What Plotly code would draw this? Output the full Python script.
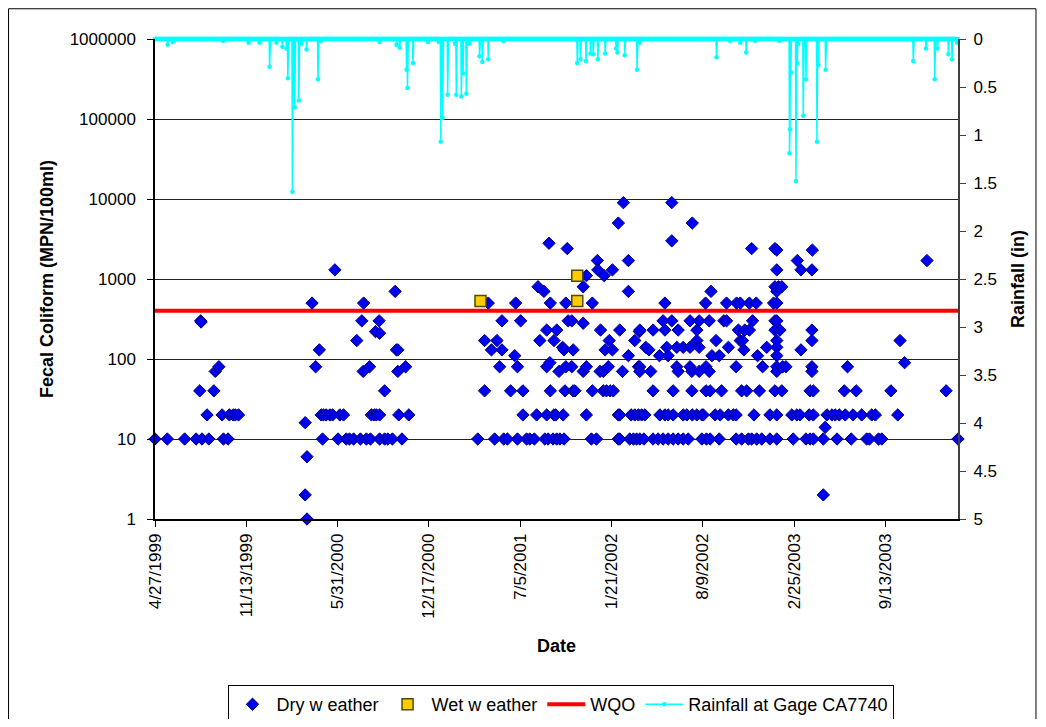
import pandas as pd
import plotly.graph_objects as go

# Dates are stored as days after 4/27/1999 (first day of the record)
START = pd.Timestamp("1999-04-27")
END = pd.Timestamp("2004-02-19")

# Dry weather samples, grouped by reported fecal coliform result (MPN/100ml)
dry_days_10 = [0, 27, 65, 90, 103, 118, 150, 160, 367, 401, 419, 426, 435, 450, 463, 472, 492, 503, 510,
               520, 541, 707, 744, 764, 772, 794, 814, 821, 831, 854, 861, 872, 880, 887, 896, 956, 967,
               1015, 1018, 1040, 1048, 1055, 1062, 1071, 1091, 1102, 1113, 1124, 1135, 1146, 1157, 1168,
               1198, 1208, 1216, 1236, 1273, 1285, 1300, 1307, 1318, 1329, 1347, 1362, 1398, 1426, 1435,
               1442, 1464, 1494, 1525, 1559, 1565, 1585, 1592, 1759]
dry_days_20 = [114, 147, 163, 171, 176, 183, 364, 369, 375, 383, 389, 405, 413, 474, 480, 485, 492, 534,
               556, 806, 836, 858, 874, 878, 894, 945, 1015, 1018, 1043, 1051, 1059, 1066, 1073, 1106,
               1117, 1124, 1135, 1157, 1165, 1177, 1187, 1198, 1201, 1227, 1238, 1256, 1267, 1273, 1312,
               1347, 1362, 1395, 1406, 1413, 1433, 1442, 1472, 1483, 1490, 1499, 1512, 1529, 1548, 1570,
               1578, 1627]
dry_days_40 = [98, 129, 503, 722, 779, 806, 866, 898, 916, 920, 958, 982, 989, 997, 1004, 1091, 1135,
               1176, 1207, 1216, 1241, 1285, 1296, 1324, 1358, 1373, 1435, 1442, 1510, 1536, 1612, 1733]
dry_other_days = [100, 101, 132, 140, 329, 333, 329, 333, 344, 352, 360, 394, 442, 453, 456, 457, 470,
                  483, 492, 491, 526, 529, 532, 532, 549,
                  722, 730, 737, 749, 755, 760, 760, 788, 790, 794, 801, 839, 852, 843, 858, 858, 863,
                  865, 866, 874, 880, 885, 893, 896, 900, 900, 903, 905, 913, 913, 916, 938, 938, 938,
                  945, 945, 958, 969, 970, 975, 976, 982, 984, 986, 993, 995, 1002, 1002, 1015, 1018,
                  1024, 1026, 1037, 1037, 1037, 1051, 1059, 1061, 1062, 1062, 1062,
                  1075, 1082, 1086, 1091, 1105, 1113, 1117, 1117, 1121, 1124, 1132, 1132, 1132, 1143,
                  1143, 1146, 1146, 1157, 1172, 1172, 1172, 1176, 1177, 1187, 1187, 1192, 1192, 1192,
                  1206, 1207, 1214, 1214, 1218, 1220, 1229, 1236, 1246, 1252, 1252, 1256, 1274, 1273,
                  1278, 1282, 1282, 1287, 1290, 1292, 1302, 1302, 1307, 1309, 1317, 1320, 1331, 1340,
                  1355, 1358, 1358, 1358, 1358, 1362, 1362, 1362, 1362, 1362, 1362, 1362, 1362, 1362,
                  1362, 1366, 1373, 1369, 1375, 1382, 1407, 1415, 1415, 1439, 1439, 1439, 1439, 1439,
                  1440, 1468, 1464, 1517, 1632, 1642, 1691]
dry_other_fc = [300, 290, 70, 80, 16, 6, 2, 1, 500, 80, 130, 1300, 170, 300, 70, 500, 80,
                220, 210, 300, 700, 130, 130, 70, 80,
                170, 500, 130, 170, 80, 300, 130, 110, 500, 80, 300, 800, 700, 170, 230, 80, 2800,
                90, 500, 170, 230, 70, 140, 130, 500, 80, 2400, 300, 300, 80, 130, 800, 280, 70,
                1100, 80, 500, 1700, 1300, 70, 230, 70, 1100, 130, 80, 170, 1300, 130, 5000, 230,
                70, 9000, 1700, 700, 110, 170, 80, 220, 230, 80, 70,
                140, 130, 70, 230, 110, 300, 500, 230, 140, 110, 9000, 3000, 300, 140,
                80, 230, 70, 140, 300, 80, 140, 70, 5000, 230, 170, 300, 140, 70,
                500, 80, 300, 70, 700, 110, 170, 110, 300, 500, 300, 140, 500, 80,
                230, 500, 170, 170, 130, 230, 500, 230, 2400, 300, 500, 110, 80, 140,
                500, 2400, 800, 300, 230, 2300, 1300, 700, 500, 300, 170, 140, 110, 80,
                70, 800, 800, 230, 80, 80, 1700, 1300, 130, 1300, 230, 170, 80, 70,
                2300, 14, 2, 80, 170, 90, 1700]

# Wet weather samples
wet_days = [713, 925, 925]
wet_fc = [530, 1100, 530]

# Water quality objective
wqo_dates = ["1999-04-27", "2004-02-19"]
wqo_values = [400, 400]

# Daily rainfall at gage CA7740: days with rain (all other days 0 in)
rain_days = [28, 39, 149, 205, 229, 251, 266, 279, 288, 291, 301, 306, 315, 321, 332, 357, 363,
             492, 529, 536, 551, 553, 565, 598, 622, 626, 630, 641, 657, 660, 671, 675, 682, 688,
             711, 717, 730, 763, 925, 932, 944, 954, 960, 970, 986, 1010, 1013, 1029, 1056, 1061,
             1230, 1260, 1282, 1295, 1314, 1368, 1390, 1391, 1393, 1404, 1407, 1409, 1420, 1426,
             1450, 1453, 1469, 1661, 1689, 1708, 1714, 1738, 1746, 1757]
rain_in = [0.06, 0.03, 0.02, 0.04, 0.04, 0.29, 0.04, 0.08, 0.10, 0.41, 1.59, 0.71, 0.64, 0.05, 0.11,
           0.42, 0.02, 0.03, 0.06, 0.09, 0.32, 0.51, 0.25, 0.03, 0.03, 1.07, 0.82, 0.58, 0.05, 0.58,
           0.60, 0.36, 0.57, 0.05, 0.18, 0.24, 0.21, 0.02, 0.25, 0.21, 0.23, 0.15, 0.16, 0.21, 0.15,
           0.10, 0.14, 0.17, 0.32, 0.04, 0.19, 0.02, 0.04, 0.14, 0.02, 0.02, 1.19, 0.94, 0.35, 1.48,
           0.25, 0.05, 0.80, 0.42, 1.07, 0.27, 0.32, 0.23, 0.10, 0.42, 0.10, 0.16, 0.21, 0.04]


def to_dates(days):
    return START + pd.to_timedelta(pd.Series(days, dtype="float64"), unit="D")


dry_days = dry_days_10 + dry_days_20 + dry_days_40 + dry_other_days
dry_fc = [10] * len(dry_days_10) + [20] * len(dry_days_20) + [40] * len(dry_days_40) + dry_other_fc

n_days = (END - START).days + 1
rain_series = pd.Series(0.0, index=range(n_days))
for d, v in zip(rain_days, rain_in):
    rain_series[d] = v
rain_dates = START + pd.to_timedelta(rain_series.index.to_series(), unit="D")

FONT = "Liberation Sans, Arial, sans-serif"

fig = go.Figure()

fig.add_trace(go.Scatter(
    x=wqo_dates, y=wqo_values, name="WQO", mode="lines", legendrank=3,
    line=dict(color="#FF0000", width=4), cliponaxis=False,
))
fig.add_trace(go.Scatter(
    x=to_dates(dry_days), y=dry_fc, name="Dry w eather", mode="markers", legendrank=1,
    marker=dict(symbol="diamond", size=9.5, color="#0000F0",
                line=dict(color="#000080", width=1)),
    cliponaxis=False,
))
fig.add_trace(go.Scatter(
    x=to_dates(wet_days), y=wet_fc, name="Wet w eather", mode="markers", legendrank=2,
    marker=dict(symbol="square", size=11, color="#FFCC00",
                line=dict(color="#4D4D00", width=1.5)),
    cliponaxis=False,
))
fig.add_trace(go.Scatter(
    x=rain_dates, y=rain_series.values, name="Rainfall at Gage CA7740", mode="lines+markers",
    legendrank=4, yaxis="y2",
    line=dict(color="#00FFFF", width=1.5),
    marker=dict(color="#00FFFF", size=4.5),
    cliponaxis=False,
))

# page body has an 8px margin: figure is sized so the plot area lands at x 155-958, y 39-519
fig.update_layout(
    width=1030, height=711,
    margin=dict(l=147, r=80, t=31, b=200, autoexpand=False),
    paper_bgcolor="white", plot_bgcolor="white",
    font=dict(family=FONT, size=17, color="black"),
    showlegend=True,
    legend=dict(
        orientation="h", x=0.505, xanchor="center", y=-0.346, yanchor="top",
        bordercolor="black", borderwidth=1, bgcolor="white",
        font=dict(family=FONT, size=18, color="black"),
        itemwidth=38, tracegroupgap=0,
    ),
    xaxis=dict(
        type="date", range=[START, END], automargin=False,
        tick0="1999-04-27", dtick=200 * 86400000,
        tickformat="%-m/%-d/%Y", tickangle=-90,
        ticks="outside", ticklen=6, tickcolor="black",
        showline=True, linecolor="black", linewidth=1.5,
        showgrid=False, zeroline=False,
        tickfont=dict(family=FONT, size=17),
        title=dict(text="Date", font=dict(family=FONT, size=18, weight="bold"), standoff=22),
    ),
    yaxis=dict(
        type="log", range=[0, 6], dtick=1, tickformat="d", automargin=False,
        ticks="outside", ticklen=6, tickcolor="black", ticklabelstandoff=8,
        showline=True, linecolor="black", linewidth=1.5,
        showgrid=True, gridcolor="#222222", gridwidth=1, zeroline=False,
        tickfont=dict(family=FONT, size=17),
        title=dict(text="Fecal Coliform (MPN/100ml)", font=dict(family=FONT, size=18, weight="bold"),
                   standoff=11),
    ),
    yaxis2=dict(
        overlaying="y", side="right", range=[5, 0], dtick=0.5, tick0=0, automargin=False,
        ticks="outside", ticklen=6, tickcolor="#404040", ticklabelstandoff=4,
        showline=True, linecolor="#404040", linewidth=2,
        showgrid=False, zeroline=False,
        tickfont=dict(family=FONT, size=17),
        title=dict(text="Rainfall (in)", font=dict(family=FONT, size=18, weight="bold"), standoff=15),
    ),
    shapes=[dict(type="rect", xref="paper", yref="paper",
                 x0=-0.1824, x1=1.0971, y0=-0.47, y1=1.063,
                 line=dict(color="black", width=1), fillcolor="rgba(0,0,0,0)", layer="below")],
)

fig.write_html("out.html")
